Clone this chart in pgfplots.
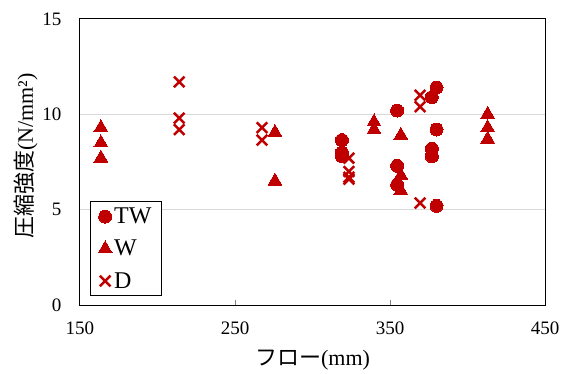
\documentclass[border=0pt]{standalone}
\usepackage{pgfplots}
\pgfplotsset{compat=1.18}
\usepackage{fontspec}
\setmainfont{Liberation Serif}
\newfontfamily\cjk{Noto Sans CJK JP}
\definecolor{dred}{HTML}{C00000}
\begin{document}
\begin{tikzpicture}
\begin{axis}[
  scale only axis,
  width=465pt, height=286pt,
  xmin=150, xmax=450, ymin=0, ymax=15,
  xtick={150,250,350,450}, ytick={0,5,10,15},
  ymajorgrids, grid style={gray!30, line width=1pt},
  axis line style={line width=1pt},
  tick align=inside, xtick pos=bottom, ytick pos=left,
  major tick length=5pt,
  ytick style={draw=none},
  xtick style={line width=1pt},
  /pgf/number format/assume math mode=true,
  tick label style={font=\fontsize{19}{22}\selectfont},
  xticklabel style={yshift=-13pt},
  yticklabel style={xshift=-15pt},
  xlabel={{\cjk フロー}(mm)},
  ylabel={{\cjk 圧縮強度}(N/mm²)},
  label style={font=\fontsize{22}{26}\selectfont},
  xlabel style={at={(axis description cs:0.5,0)}, anchor=center, yshift=-55pt},
  ylabel style={at={(axis description cs:-0.116,0.521)}, anchor=center},
  legend style={font=\fontsize{24}{28}\selectfont, draw=black, line width=1pt, at={(0.021,0.031)}, anchor=south west, row sep=11pt, inner xsep=8pt, inner ysep=4pt, nodes={inner sep=2pt}},
  legend cell align=left,
  legend image code/.code={\draw[mark repeat=2,mark phase=2,#1] plot coordinates {(0pt,0pt) (11pt,0pt) (24pt,0pt)};},
]
\addplot[only marks, mark=*, mark size=6.5pt, color=dred, mark options={fill=dred, line width=0pt}] coordinates {
 (319,8.65) (319,8.0) (319,7.8)
 (354.6,10.2) (354.6,7.3) (354.6,6.3)
 (377,10.9) (377,8.2) (377,7.8)
 (380,11.4) (380,9.2) (380,5.2)
};
\addlegendentry{TW}
\addplot[only marks, mark=triangle*, mark size=8pt, color=dred, mark options={fill=dred, line width=0pt}] coordinates {
 (163.5,9.3) (163.5,8.5) (163.5,7.7)
 (275.8,9.05) (275.8,6.5)
 (339.7,9.6) (339.7,9.2)
 (357,8.9) (357,6.8) (357,6.0)
 (413,10.0) (413,9.3) (413,8.7)
};
\addlegendentry{W}
\addplot[only marks, mark=x, mark size=7.5pt, color=dred, mark options={line width=2.5pt}] coordinates {
 (214,11.7) (214,9.8) (214,9.2)
 (267.4,9.3) (267.4,8.65)
 (323.5,7.7) (323.5,7.0) (323.5,6.7) (323.5,6.6)
 (369.4,11.0) (369.4,10.4) (369.4,5.35)
};
\addlegendentry{D}
\end{axis}
\pgfresetboundingbox
\path ([shift={(-80pt,-69pt)}]current axis.south west) rectangle ([shift={(19pt,19pt)}]current axis.north east);
\end{tikzpicture}
\end{document}
